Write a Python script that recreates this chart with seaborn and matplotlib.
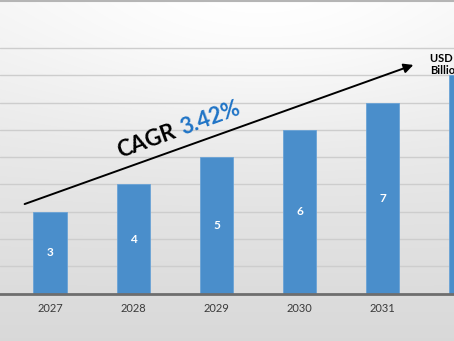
import numpy as np
import matplotlib
matplotlib.use("Agg")
import matplotlib.pyplot as plt
import seaborn as sns
import pandas as pd

years = ["2027", "2028", "2029", "2030", "2031", "2032"]
values = [3, 4, 5, 6, 7, 8]
bar_labels = ["3", "4", "5", "6", "7", "8"]
cagr_label = "CAGR"
cagr_value = "3.42%"
end_label = "USD 10\nBillion"

sns.set_theme(style="white")
plt.rcParams['font.family'] = ['Lato', 'DejaVu Sans']

W, H = 454, 341
fig = plt.figure(figsize=(W / 100, H / 100), dpi=100)

# background gradient
bg = fig.add_axes([0, 0, 1, 1], zorder=0)
yy, xx = np.mgrid[0:H, 0:W]
base = 0.95 - 0.10 * (yy / H)
glow = 0.05 * np.exp(-(((xx - 260) / 260.0) ** 2 + ((yy - 20) / 120.0) ** 2))
img = np.clip(base + glow, 0, 1)
bg.imshow(np.dstack([img, img, img]), aspect="auto", extent=[0, W, H, 0])
bg.axhline(0.5, color="#b5b5b5", lw=1.5)
bg.set_xlim(0, W)
bg.set_ylim(H, 0)
bg.axis("off")

# main axes
axis_y = 293.6
unit = 27.3
ax = fig.add_axes([0, (H - axis_y) / H, 1, axis_y / H], zorder=1)
ax.patch.set_alpha(0)

df = pd.DataFrame({"year": years, "value": values})
sns.barplot(data=df, x="year", y="value", color="#4a8ecb", saturation=1,
            width=0.4, ax=ax, zorder=3)
for p in ax.patches:
    p.set_edgecolor("#6aa3d6")
    p.set_linewidth(0.6)

xlo = -50 / 83.2
xhi = xlo + W / 83.2
ax.set_xlim(xlo, xhi)
ax.set_ylim(0, axis_y / unit)
ax.set_yticks(range(0, 10))
ax.yaxis.grid(True, color="#cdcdcd", lw=1.0, zorder=0)
ax.set_axisbelow(True)
ax.tick_params(axis="y", left=False, labelleft=False)
ax.tick_params(axis="x", bottom=False, pad=0.5, labelsize=8, labelcolor="#3a3a3a")
ax.set_xlabel("")
ax.set_ylabel("")
for s in ["top", "right", "left"]:
    ax.spines[s].set_visible(False)
ax.spines["bottom"].set_color("#6e6e6e")
ax.spines["bottom"].set_linewidth(2)
ax.spines["bottom"].set_zorder(4)

# labels only for bars whose centre lies inside the visible range
visible = [lab if xlo <= i <= xhi else "" for i, lab in enumerate(bar_labels)]
ax.bar_label(ax.containers[0], labels=visible, label_type="center",
             color="white", fontsize=8.5, fontweight="bold")

# overlay annotations in figure pixel coordinates
def fx(x):
    return x / W

def fy(y):
    return 1 - y / H

fig.add_artist(matplotlib.patches.FancyArrowPatch(
    (fx(22), fy(205)), (fx(416), fy(64)), transform=fig.transFigure,
    arrowstyle="-|>,head_length=4,head_width=2", color="black", lw=1.4,
    zorder=5, mutation_scale=1.4))

ang = 20
fig.text(fx(120), fy(158), cagr_label, rotation=ang, rotation_mode="anchor",
         ha="left", va="baseline", fontsize=16, fontweight="bold",
         color="black", zorder=6)
fig.text(fx(183), fy(135), cagr_value, rotation=ang, rotation_mode="anchor",
         ha="left", va="baseline", fontsize=16, fontweight="bold",
         color="#1f74c6", zorder=6)

fig.text(fx(430), fy(53), end_label, ha="left", va="top", fontsize=8,
         fontweight="bold", color="black", linespacing=1.15, zorder=6)

fig.savefig("out.png", dpi=100)
